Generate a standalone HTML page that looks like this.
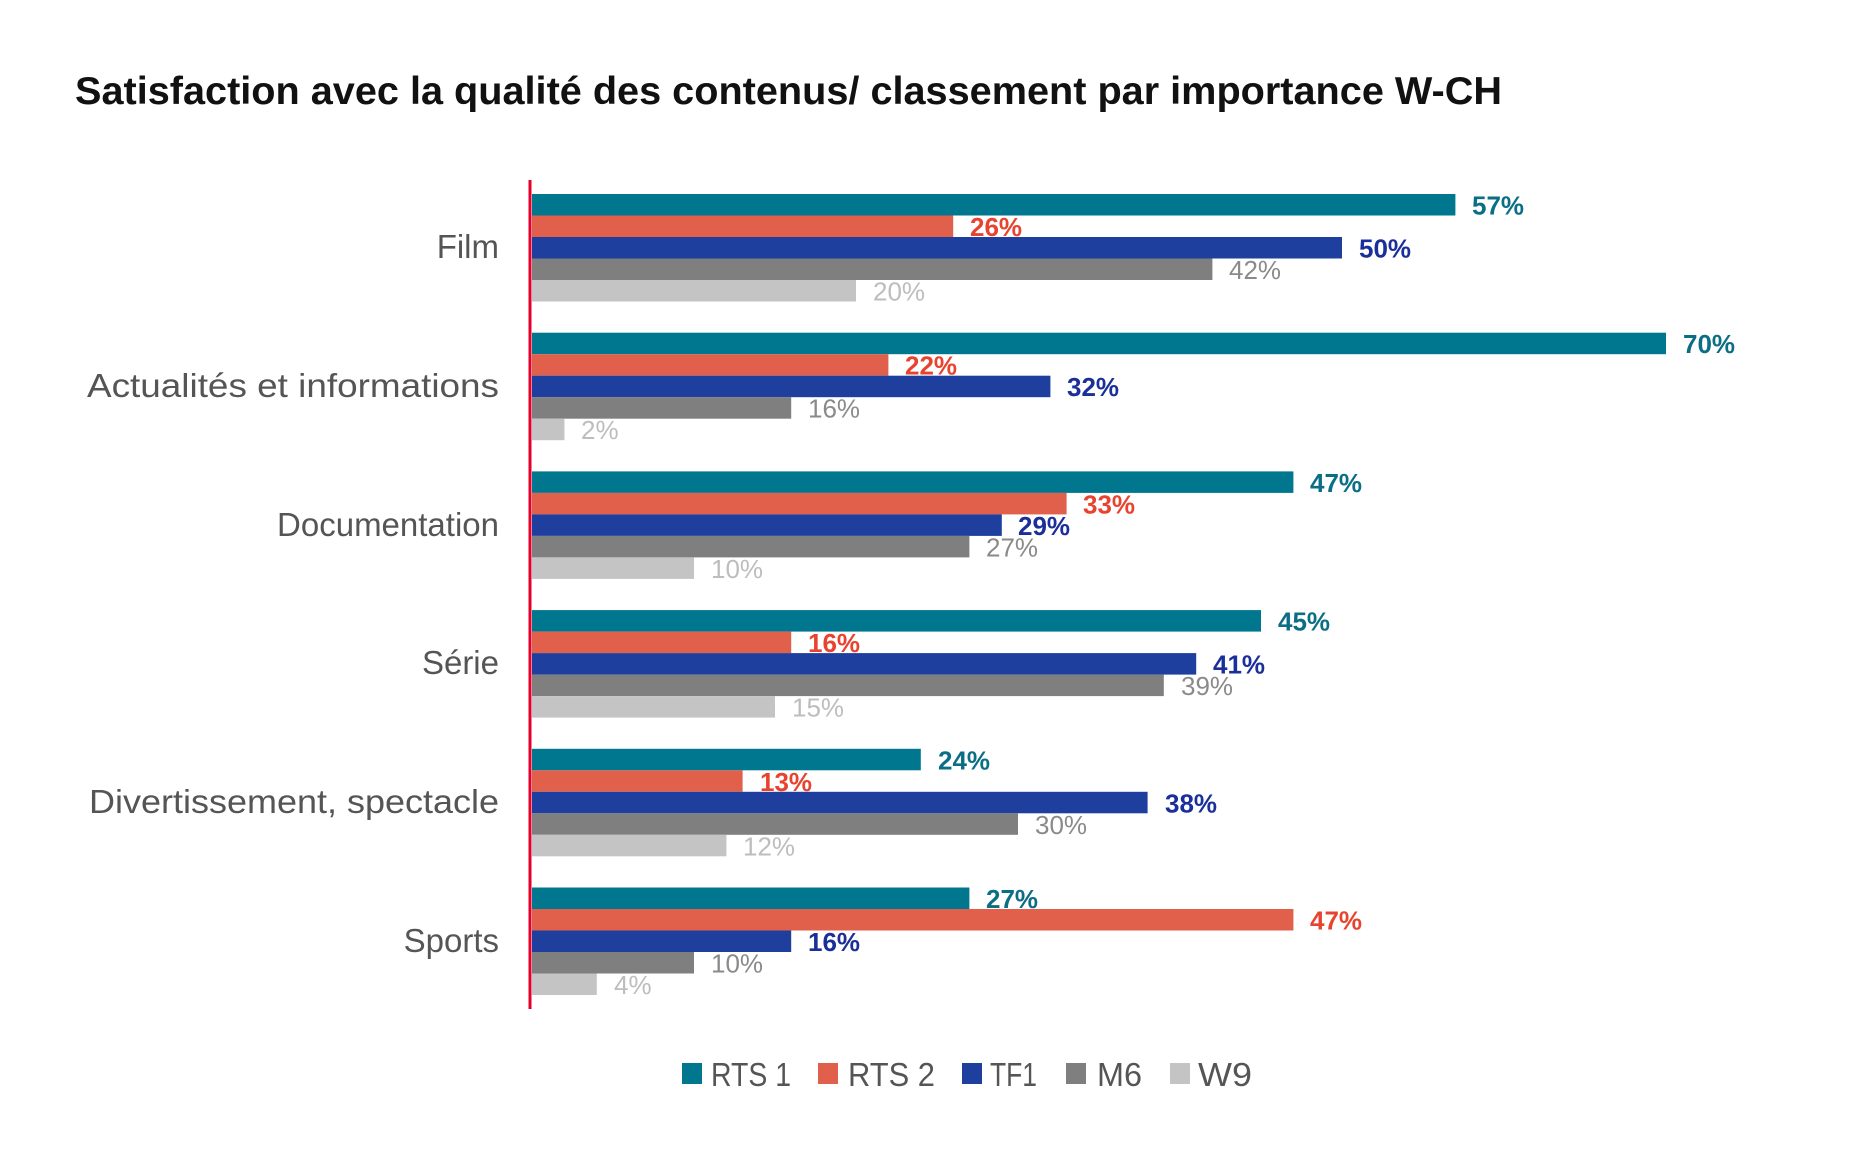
<!DOCTYPE html>
<html><head><meta charset="utf-8"><style>
html,body{margin:0;padding:0;background:#fff}
svg{display:block}
.a{fill:#00768f}.b{fill:#e0604c}.c{fill:#1e3f9e}.d{fill:#7f7f7f}.e{fill:#c4c4c4}
.la{fill:#0b6e85;font-weight:bold}.lb{fill:#e8432e;font-weight:bold}.lc{fill:#1a2f99;font-weight:bold}.ld{fill:#8a8a8a}.le{fill:#bdbdbd}
.v{font-family:"Liberation Sans",sans-serif;font-size:26px}
</style></head><body>
<svg width="1860" height="1158" viewBox="0 0 1860 1158" xmlns="http://www.w3.org/2000/svg">
<rect width="1860" height="1158" fill="#fff"/>
<text x="75" y="104" font-family="Liberation Sans, sans-serif" font-weight="bold" font-size="39" fill="#111" textLength="1427" lengthAdjust="spacingAndGlyphs">Satisfaction avec la qualité des contenus/ classement par importance W-CH</text>
<g font-family="Liberation Sans, sans-serif" font-size="33" fill="#555" text-anchor="end">
<text x="499" y="258">Film</text>
<text x="499" y="397" textLength="412" lengthAdjust="spacingAndGlyphs">Actualités et informations</text>
<text x="499" y="536">Documentation</text>
<text x="499" y="674">Série</text>
<text x="499" y="813" textLength="410" lengthAdjust="spacingAndGlyphs">Divertissement, spectacle</text>
<text x="499" y="952">Sports</text>
</g>
<g>
<rect class="a" x="532" y="194" width="923.4" height="21.5"/>
<rect class="b" x="532" y="215.5" width="421.2" height="21.5"/>
<rect class="c" x="532" y="237" width="810" height="21.5"/>
<rect class="d" x="532" y="258.5" width="680.4" height="21.5"/>
<rect class="e" x="532" y="280" width="324" height="21.5"/>

<rect class="a" x="532" y="332.7" width="1134" height="21.5"/>
<rect class="b" x="532" y="354.2" width="356.4" height="21.5"/>
<rect class="c" x="532" y="375.7" width="518.4" height="21.5"/>
<rect class="d" x="532" y="397.2" width="259.2" height="21.5"/>
<rect class="e" x="532" y="418.7" width="32.4" height="21.5"/>

<rect class="a" x="532" y="471.4" width="761.4" height="21.5"/>
<rect class="b" x="532" y="492.9" width="534.6" height="21.5"/>
<rect class="c" x="532" y="514.4" width="469.8" height="21.5"/>
<rect class="d" x="532" y="535.9" width="437.4" height="21.5"/>
<rect class="e" x="532" y="557.4" width="162" height="21.5"/>

<rect class="a" x="532" y="610.1" width="729" height="21.5"/>
<rect class="b" x="532" y="631.6" width="259.2" height="21.5"/>
<rect class="c" x="532" y="653.1" width="664.2" height="21.5"/>
<rect class="d" x="532" y="674.6" width="631.8" height="21.5"/>
<rect class="e" x="532" y="696.1" width="243" height="21.5"/>

<rect class="a" x="532" y="748.8" width="388.8" height="21.5"/>
<rect class="b" x="532" y="770.3" width="210.6" height="21.5"/>
<rect class="c" x="532" y="791.8" width="615.6" height="21.5"/>
<rect class="d" x="532" y="813.3" width="486" height="21.5"/>
<rect class="e" x="532" y="834.8" width="194.4" height="21.5"/>

<rect class="a" x="532" y="887.5" width="437.4" height="21.5"/>
<rect class="b" x="532" y="909" width="761.4" height="21.5"/>
<rect class="c" x="532" y="930.5" width="259.2" height="21.5"/>
<rect class="d" x="532" y="952" width="162" height="21.5"/>
<rect class="e" x="532" y="973.5" width="64.8" height="21.5"/>
</g>
<g class="v">
<text class="la" x="1472" y="214.5">57%</text>
<text class="lb" x="970" y="236">26%</text>
<text class="lc" x="1359" y="257.5">50%</text>
<text class="ld" x="1229" y="279">42%</text>
<text class="le" x="873" y="300.5">20%</text>

<text class="la" x="1683" y="353.2">70%</text>
<text class="lb" x="905" y="374.7">22%</text>
<text class="lc" x="1067" y="396.2">32%</text>
<text class="ld" x="808" y="417.7">16%</text>
<text class="le" x="581" y="439.2">2%</text>

<text class="la" x="1310" y="491.9">47%</text>
<text class="lb" x="1083" y="513.4">33%</text>
<text class="lc" x="1018" y="534.9">29%</text>
<text class="ld" x="986" y="556.4">27%</text>
<text class="le" x="711" y="577.9">10%</text>

<text class="la" x="1278" y="630.6">45%</text>
<text class="lb" x="808" y="652.1">16%</text>
<text class="lc" x="1213" y="673.6">41%</text>
<text class="ld" x="1181" y="695.1">39%</text>
<text class="le" x="792" y="716.6">15%</text>

<text class="la" x="938" y="769.3">24%</text>
<text class="lb" x="760" y="790.8">13%</text>
<text class="lc" x="1165" y="812.3">38%</text>
<text class="ld" x="1035" y="833.8">30%</text>
<text class="le" x="743" y="855.3">12%</text>

<text class="la" x="986" y="908">27%</text>
<text class="lb" x="1310" y="929.5">47%</text>
<text class="lc" x="808" y="951">16%</text>
<text class="ld" x="711" y="972.5">10%</text>
<text class="le" x="614" y="994">4%</text>
</g>
<line x1="530" y1="180" x2="530" y2="1009" stroke="#e3002a" stroke-width="3"/>
<g font-family="Liberation Sans, sans-serif" font-size="33" fill="#555">
<rect x="682" y="1063" width="20" height="21" fill="#00768f"/><text x="711" y="1086" textLength="80" lengthAdjust="spacingAndGlyphs">RTS 1</text>
<rect x="818" y="1063" width="20" height="21" fill="#e0604c"/><text x="848" y="1086" textLength="87" lengthAdjust="spacingAndGlyphs">RTS 2</text>
<rect x="962" y="1063" width="20" height="21" fill="#1e3f9e"/><text x="990" y="1086" textLength="47" lengthAdjust="spacingAndGlyphs">TF1</text>
<rect x="1066" y="1063" width="20" height="21" fill="#7f7f7f"/><text x="1097" y="1086" textLength="45" lengthAdjust="spacingAndGlyphs">M6</text>
<rect x="1170" y="1063" width="20" height="21" fill="#c4c4c4"/><text x="1198" y="1086" textLength="54" lengthAdjust="spacingAndGlyphs">W9</text>
</g>
</svg>
</body></html>
